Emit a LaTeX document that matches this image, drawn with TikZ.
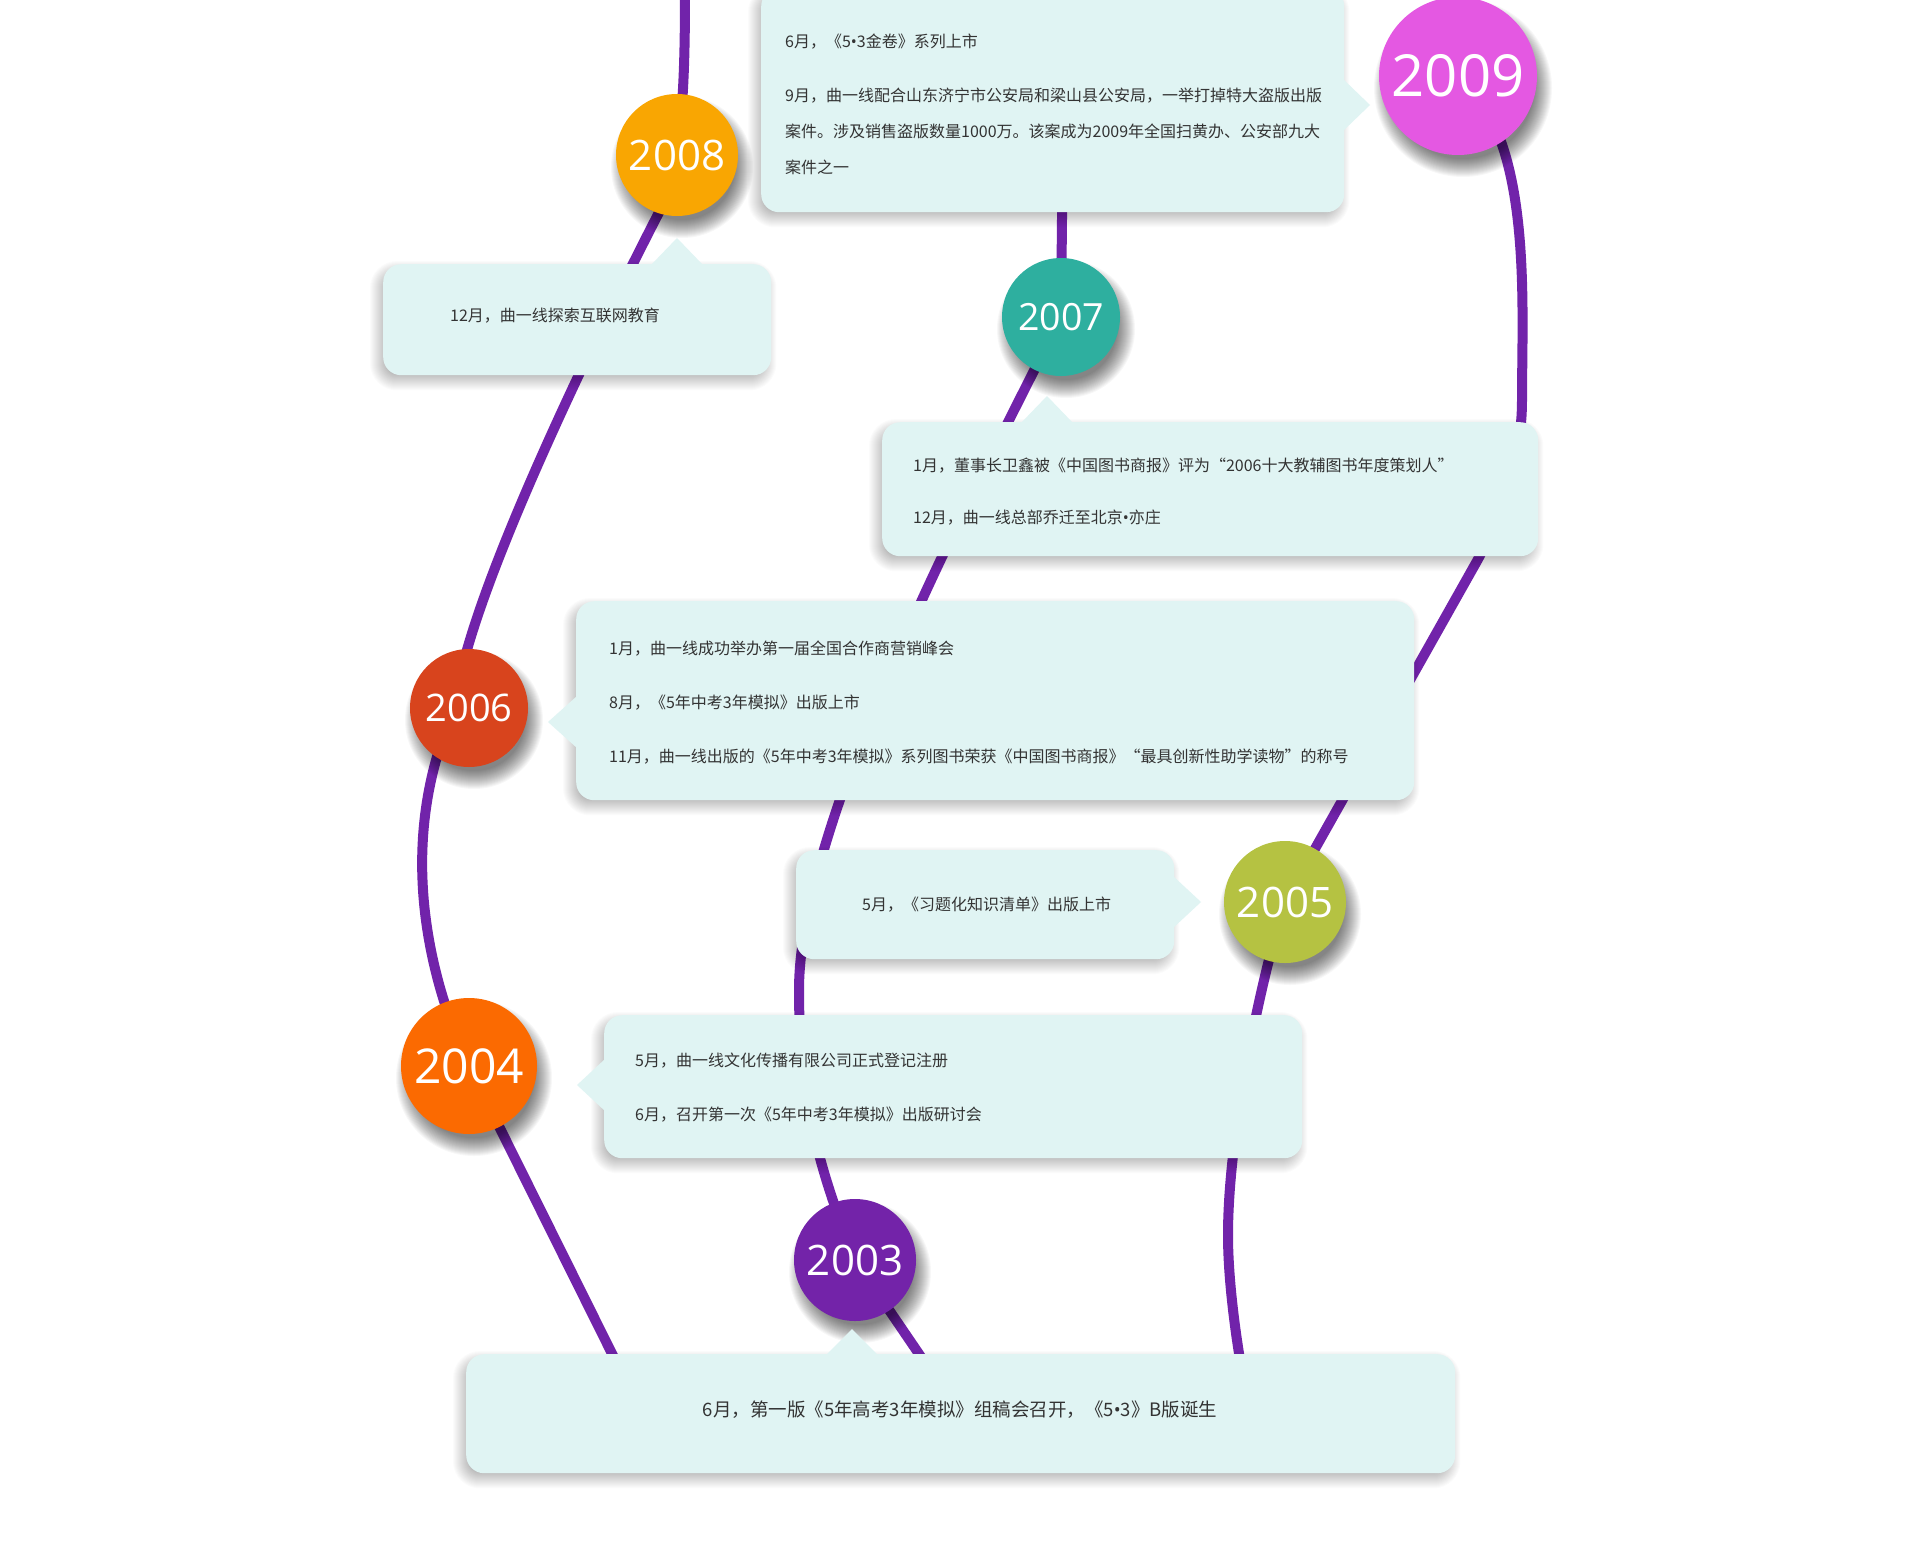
\documentclass[tikz,border=0pt]{standalone}
\usepackage{fontspec}
\setmainfont{Noto Sans CJK SC}
\newfontfamily\yearfont{Open Sans}
\pgfdeclarelayer{background}
\pgfdeclarelayer{shade}
\pgfsetlayers{background,shade,main}
\definecolor{wavec}{HTML}{7123AA}
\definecolor{boxc}{HTML}{E0F4F3}
\definecolor{txtc}{HTML}{333333}
\definecolor{c2009}{HTML}{E458E2}
\definecolor{c2008}{HTML}{F9A602}
\definecolor{c2007}{HTML}{2EAF9F}
\definecolor{c2006}{HTML}{D8441D}
\definecolor{c2005}{HTML}{B5C242}
\definecolor{c2004}{HTML}{FB6A01}
\definecolor{c2003}{HTML}{7323A9}
\newcommand{\dotmark}{{\yearfont\textbullet}}
\begin{document}
\begin{tikzpicture}[x=1pt, y=-1pt,
    wave/.style={draw=wavec, line width=10pt},
    box/.style={fill=boxc, rounded corners=18pt, anchor=north west, inner sep=0pt},
    ptr/.style={fill=boxc},
    yr/.style={circle, fill=#1, text=white, inner sep=0pt},
    soft/.style={fill=black, opacity=#1},
    txt/.style={text=txtc, anchor=west, align=left, inner sep=0pt, font=\fontsize{16}{54}\selectfont}]
    \useasboundingbox (0,0) rectangle (1920,1553);

    \node[box, minimum width=583, minimum height=224] (b9) at (761,-12) {};
    \node[box, minimum width=388, minimum height=111] (b8) at (383,264) {};
    \node[box, minimum width=656, minimum height=134] (b7) at (882,422) {};
    \node[box, minimum width=838, minimum height=199] (b6) at (576,601) {};
    \node[box, minimum width=378, minimum height=109] (b5) at (796,850) {};
    \node[box, minimum width=698, minimum height=143] (b4) at (604,1015) {};
    \node[box, minimum width=989, minimum height=119] (b3) at (466,1354) {};

    \fill[ptr] (1343,79) -- (1370,105) -- (1343,131) -- cycle;
    \fill[ptr] (651,265) -- (677,238) -- (703,265) -- cycle;
    \fill[ptr] (1021,423) -- (1047,396) -- (1073,423) -- cycle;
    \fill[ptr] (577,696) -- (548,722) -- (577,748) -- cycle;
    \fill[ptr] (1173,876) -- (1201,902) -- (1173,928) -- cycle;
    \fill[ptr] (605,1059) -- (577,1085) -- (605,1111) -- cycle;
    \fill[ptr] (826,1355) -- (852,1329) -- (878,1355) -- cycle;

    \node[yr=c2009, minimum size=158, font=\yearfont\fontsize{58}{58}\selectfont] (y9) at (1458,76) {2009};
    \node[yr=c2008, minimum size=122, font=\yearfont\fontsize{42}{42}\selectfont] (y8) at (677,155) {2008};
    \node[yr=c2007, minimum size=118, font=\yearfont\fontsize{37.5}{38}\selectfont] (y7) at (1061,317) {2007};
    \node[yr=c2006, minimum size=118, font=\yearfont\fontsize{38}{38}\selectfont] (y6) at (469,708) {2006};
    \node[yr=c2005, minimum size=122, font=\yearfont\fontsize{42}{42}\selectfont] (y5) at (1285,902) {2005};
    \node[yr=c2004, minimum size=136, font=\yearfont\fontsize{48}{48}\selectfont] (y4) at (469,1066) {2004};
    \node[yr=c2003, minimum size=122, font=\yearfont\fontsize{42}{42}\selectfont] (y3) at (855,1260) {2003};

    \node[txt, font=\fontsize{16}{36}\selectfont] (t9) at (785,104) {6月，《5\dotmark 3金卷》系列上市\\[18pt]
        9月，曲一线配合山东济宁市公安局和梁山县公安局，一举打掉特大盗版出版\\
        案件。涉及销售盗版数量1000万。该案成为2009年全国扫黄办、公安部九大\\
        案件之一};
    \node[txt] (t8) at (450,316) {12月，曲一线探索互联网教育};
    \node[txt, font=\fontsize{16}{52}\selectfont] (t7) at (913,492) {1月，董事长卫鑫被《中国图书商报》评为“2006十大教辅图书年度策划人”\\
        12月，曲一线总部乔迁至北京\dotmark 亦庄};
    \node[txt] (t6) at (609,703) {1月，曲一线成功举办第一届全国合作商营销峰会\\
        8月，《5年中考3年模拟》出版上市\\
        11月，曲一线出版的《5年中考3年模拟》系列图书荣获《中国图书商报》“最具创新性助学读物”的称号};
    \node[txt] (t5) at (862,905) {5月，《习题化知识清单》出版上市};
    \node[txt] (t4) at (635,1088) {5月，曲一线文化传播有限公司正式登记注册\\
        6月，召开第一次《5年中考3年模拟》出版研讨会};
    \node[txt, anchor=center, font=\fontsize{18.5}{18}\selectfont] (t3) at (960,1410) {6月，第一版《5年高考3年模拟》组稿会召开，《5\dotmark 3》B版诞生};

    \coordinate (s1) at (685,-10);
    \coordinate (s2) at (1063,120);
    \coordinate (m1) at (799,990);
    \coordinate (m2) at (1522,400);
    \coordinate (m3) at (1477,561);
    \coordinate (m4) at (1228,1235);
    \coordinate (m6) at (668,195);
    \coordinate (e1) at (645,1420);
    \coordinate (e2) at (964,1420);
    \coordinate (e3) at (1252,1420);

    \begin{pgfonlayer}{shade}
        \foreach \n in {b9,b8,b7,b6,b5,b4,b3}
            \foreach \k in {-7,...,9} {
                \pgfmathsetmacro\rr{max(18+\k,2)}
                \fill[soft=0.016, rounded corners=\rr pt]
                    ([shift={(-4-\k,6-\k)}]\n.north west) rectangle ([shift={(-4+\k,6+\k)}]\n.south east);
            }
        \foreach \n/\r in {y9/79,y8/61,y7/59,y6/59,y5/61,y4/68,y3/61}
            \foreach \k in {-8,...,10}
                \fill[soft=0.03] ([shift={(5,12)}]\n.center) circle[radius=\r+\k];
    \end{pgfonlayer}

    \begin{pgfonlayer}{background}
        \fill[white] (0,0) rectangle (1920,1553);
        \draw[wave] (s1) .. controls +(0,80) and +(6,-50) .. (y8.center) -- (m6)
            .. controls +(-26,50) and +(10,-120) .. ([xshift=-14pt]y6.center)
            .. controls +(-50,110) and +(-55,-120) .. (y4.center) -- (e1);
        \draw[wave] (e2) -- (y3.center) .. controls +(-40,-100) and +(0,100) .. (m1)
            .. controls +(0,-170) and +(-90,180) .. (y7.center) -- (s2);
        \draw[wave] (y9.center) .. controls +(75,60) and +(0,-100) .. (m2)
            .. controls +(0,60) and +(24,-44) .. (m3) -- (y5.center)
            .. controls +(-25,80) and +(0,-100) .. (m4)
            .. controls +(0,60) and +(-10,-40) .. (e3);
    \end{pgfonlayer}
\end{tikzpicture}
\end{document}
